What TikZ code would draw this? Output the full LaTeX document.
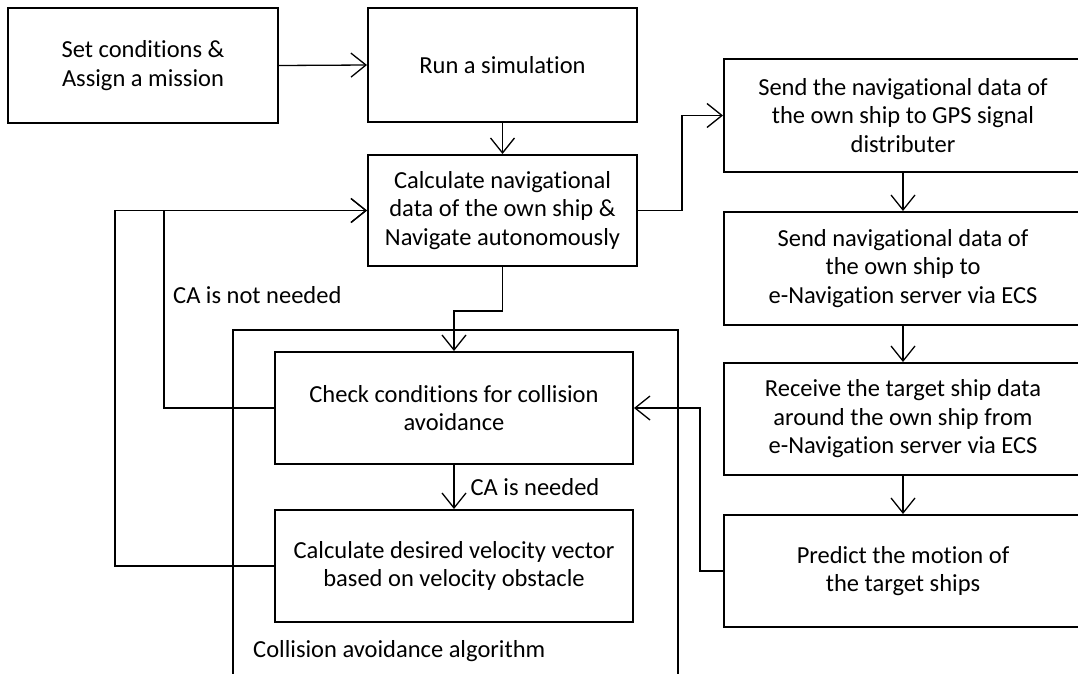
\documentclass[tikz,border=0pt]{standalone}
\usepackage{fontspec}
\setmainfont[Ligatures=NoCommon]{Carlito}
\usetikzlibrary{arrows.meta}
\begin{document}
\begin{tikzpicture}[x=1pt,y=-1pt,
  box/.style={draw=black,line width=2pt,align=center,inner sep=2pt,
    font=\fontsize{24.5}{28.5}\selectfont},
  conn/.style={line width=1.3pt},
  arr/.style={conn,-{Straight Barb[length=15pt,width=24pt,line width=1.3pt]}},
  lbl/.style={font=\fontsize{24.5}{28.5}\selectfont,inner sep=0pt}]
\clip (0,0) rectangle (1078,673);
\fill[white] (0,0) rectangle (1078,673);
% container
\draw[line width=2pt] (233,690) -- (233,330) -- (678,330) -- (678,690);
\node[lbl,anchor=west] (calg) at (253,651) {Collision avoidance algorithm};
% boxes
\node[box,minimum width=270,minimum height=115] (set) at (143,65.5) {Set conditions \&\\Assign a mission};
\node[box,minimum width=269,minimum height=114] (run) at (502.5,65) {Run a simulation};
\node[box,minimum width=269,minimum height=111] (calc) at (502.5,210.5) {Calculate navigational\\data of the own ship \&\\Navigate autonomously};
\node[box,minimum width=358,minimum height=113] (gps) at (903,115.5) {Send the navigational data of\\the own ship to GPS signal\\distributer};
\node[box,minimum width=358,minimum height=113] (ens) at (903,268.5) {Send navigational data of\\the own ship to\\e-Navigation server via ECS};
\node[box,minimum width=358,minimum height=112] (recv) at (903,419) {Receive the target ship data\\around the own ship from\\e-Navigation server via ECS};
\node[box,minimum width=358,minimum height=112] (pred) at (903,571) {Predict the motion of\\the target ships};
\node[box,minimum width=358,minimum height=112] (check) at (454,408) {Check conditions for collision\\avoidance};
\node[box,minimum width=358,minimum height=112] (vel) at (454,566) {Calculate desired velocity vector\\based on velocity obstacle};
% connectors
\draw[arr] (set.east) -- (run.west);
\draw[arr] (run.south) -- (calc.north);
\draw[arr] (calc.east) -- ++(44,0) |- (gps.west);
\draw[arr] (gps.south) -- (ens.north);
\draw[arr] (ens.south) -- (recv.north);
\draw[arr] (recv.south) -- (pred.north);
\draw[arr] (calc.south) -- ++(0,44) -| (check.north);
\draw[arr] (check.south) -- (vel.north) node[lbl,anchor=west,pos=0.5,xshift=16pt] (need) {CA is needed};
\coordinate (jn) at (164,210.5);
\draw[arr] (check.west) -| (jn) -- (calc.west);
\node[lbl,anchor=west] (notneed) at (173,295) {CA is not needed};
\draw[arr] (vel.west) -| (115,210.5) -- (calc.west);
\draw[arr] (pred.west) -- ++(-23,0) |- (check.east);
\end{tikzpicture}
\end{document}
